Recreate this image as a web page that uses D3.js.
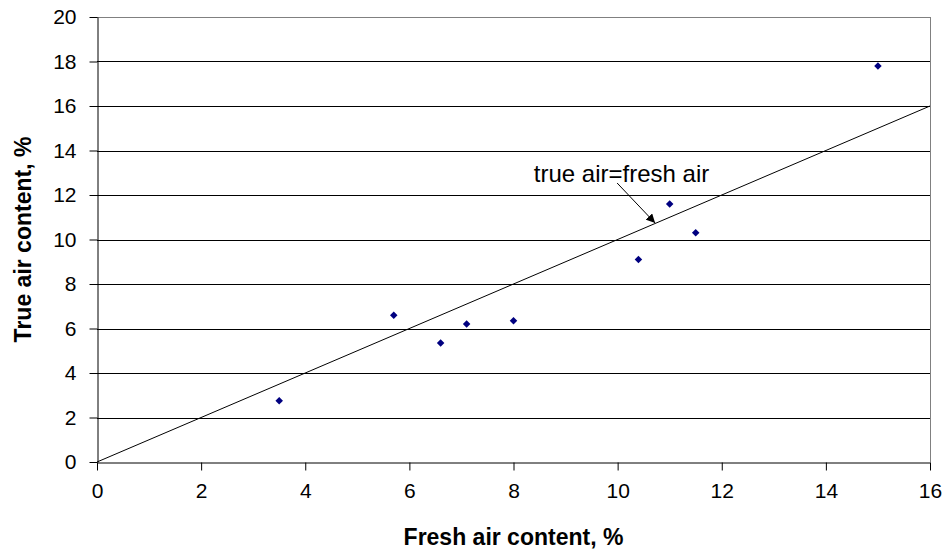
<!DOCTYPE html>
<html>
<head>
	<meta charset="utf-8">
	<title>air content</title>
	<script type="text/javascript" src="https://cdn.jsdelivr.net/npm/d3@7"></script>
	<style type="text/css">
		body{margin:0;background:#fff;}
		text{font-family:Arial,"Liberation Sans",sans-serif;fill:#000;}
	</style>
</head>
<body>
	<script type="text/javascript">
		var width=946,
			height=551,
			margin={top:17, right:16, bottom:89, left:97};

		// measured points
		var freshAir=[3.5, 5.7, 6.6, 7.1, 8.0, 10.4, 11.0, 11.5, 15.0];
		var trueAir=[2.75, 6.6, 5.35, 6.2, 6.35, 9.1, 11.6, 10.3, 17.8];
		var xTicks=[0, 2, 4, 6, 8, 10, 12, 14, 16];
		var yTicks=[0, 2, 4, 6, 8, 10, 12, 14, 16, 18, 20];
		var equalLine=[[0, 0], [16, 16]];
		// label + arrow, in data units
		var noteText="true air=fresh air";
		var notePos=[8.39, 12.6];
		var arrowLine=[[9.99, 12.54], [10.72, 10.74]];

		var svg=d3.select("body")
				.append("svg")
				.attr("width", width)
				.attr("height", height);

		var x=d3.scaleLinear().domain([0, 16]).range([margin.left, width-margin.right]);
		var y=d3.scaleLinear().domain([0, 20]).range([height-margin.bottom, margin.top]);

		svg.append("defs").append("marker")
			.attr("id", "arr")
			.attr("viewBox", "0 0 10 10")
			.attr("refX", 10)
			.attr("refY", 5)
			.attr("markerWidth", 9)
			.attr("markerHeight", 9)
			.attr("markerUnits", "userSpaceOnUse")
			.attr("orient", "auto")
			.append("path")
			.attr("d", "M0,0L10,5L0,10z")
			.attr("fill", "#000");

		// gridlines
		svg.selectAll(".grid")
			.data(yTicks.slice(1))
			.enter()
			.append("line")
			.attr("class", "grid")
			.attr("x1", x(0))
			.attr("x2", x(16))
			.attr("y1", function (d) { return Math.round(y(d))+0.5; })
			.attr("y2", function (d) { return Math.round(y(d))+0.5; })
			.attr("stroke", function (d) { return d==20 ? "#808080" : "#000"; })
			.attr("stroke-width", 1);

		// right border
		svg.append("line")
			.attr("x1", Math.round(x(16))+0.5)
			.attr("x2", Math.round(x(16))+0.5)
			.attr("y1", y(20))
			.attr("y2", y(0))
			.attr("stroke", "#808080");

		var xAxis=svg.append("g")
			.attr("transform", "translate(0," + (Math.round(y(0))+0.5) + ")")
			.call(d3.axisBottom(x).tickValues(xTicks).tickSize(8).tickSizeOuter(0).tickPadding(13));
		var yAxis=svg.append("g")
			.attr("transform", "translate(" + (Math.round(x(0))+0.5) + ",0)")
			.call(d3.axisLeft(y).tickValues(yTicks).tickSize(8).tickSizeOuter(0).tickPadding(13));

		svg.selectAll(".tick line").attr("stroke", "#000");
		svg.selectAll(".domain").attr("stroke", "#000");
		svg.selectAll(".tick text")
			.style("font-family", "Arial, 'Liberation Sans', sans-serif")
			.style("font-size", "21px")
			.attr("fill", "#000");

		// y = x line
		svg.append("path")
			.datum(equalLine)
			.attr("d", d3.line().x(function (d) { return x(d[0]); }).y(function (d) { return y(d[1]); }))
			.attr("stroke", "#000")
			.attr("stroke-width", 1)
			.attr("fill", "none");

		// points
		svg.selectAll(".pt")
			.data(freshAir)
			.enter()
			.append("path")
			.attr("class", "pt")
			.attr("d", d3.symbol().type(d3.symbolDiamond2).size(36))
			.attr("transform", function (d, i) {
				return "translate(" + x(d) + "," + y(trueAir[i]) + ")";
			})
			.attr("fill", "#000080");

		// annotation
		svg.append("text")
			.attr("x", x(notePos[0]))
			.attr("y", y(notePos[1]))
			.style("font-size", "24px")
			.text(noteText);
		svg.append("line")
			.attr("x1", x(arrowLine[0][0]))
			.attr("y1", y(arrowLine[0][1]))
			.attr("x2", x(arrowLine[1][0]))
			.attr("y2", y(arrowLine[1][1]))
			.attr("stroke", "#000")
			.attr("stroke-width", 1)
			.attr("marker-end", "url(#arr)");

		// axis titles
		svg.append("text")
			.attr("x", (x(0)+x(16))/2)
			.attr("y", 545)
			.attr("text-anchor", "middle")
			.style("font-size", "23px")
			.style("font-weight", "bold")
			.text("Fresh air content, %");
		svg.append("text")
			.attr("transform", "translate(31," + (y(0)+y(20))/2 + ") rotate(-90)")
			.attr("text-anchor", "middle")
			.style("font-size", "23px")
			.style("font-weight", "bold")
			.text("True air content, %");
	</script>
</body>
</html>
